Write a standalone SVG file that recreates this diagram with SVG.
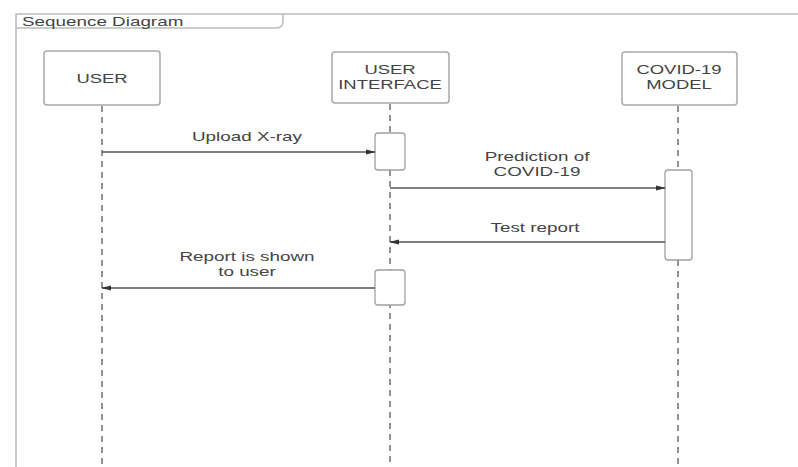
<svg xmlns="http://www.w3.org/2000/svg" width="798" height="467" viewBox="0 0 798 467">
  <style>
    .lbl { font-family: "Liberation Sans", Arial, sans-serif; font-size: 13px; fill: #444; text-anchor: middle; }
    .head { font-family: "Liberation Sans", Arial, sans-serif; font-size: 13px; fill: #444; }
    .box { fill: #fff; stroke: #a8a8a8; stroke-width: 1.5; }
    .act { fill: #fff; stroke: #a0a0a0; stroke-width: 1.3; }
    .life { stroke: #888; stroke-width: 1.8; stroke-dasharray: 6 5; fill: none; }
    .msg { stroke: #555; stroke-width: 1.3; fill: none; marker-end: url(#arrow); }
    .frame { stroke: #bbb; stroke-width: 1.5; fill: none; }
  </style>
  <defs>
    <marker id="arrow" markerWidth="10" markerHeight="8" refX="9" refY="4" orient="auto" markerUnits="userSpaceOnUse">
      <path d="M0,1.5 L10,4 L0,6.5 Z" fill="#333"/>
    </marker>
  </defs>
  <rect width="798" height="467" fill="#fff"/>

  <!-- frame with title tab -->
  <g id="frame">
    <path class="frame" d="M16,467 L16,14 L798,14"/>
    <path class="frame" d="M16,28 L276,28 Q283,28 283,21 L283,14"/>
    <text class="head" transform="translate(22,26) scale(1.45,1)">Sequence Diagram</text>
  </g>

  <!-- lifelines -->
  <g id="lifelines">
    <line class="life" x1="102" y1="106" x2="102" y2="467"/>
    <line class="life" x1="390" y1="104" x2="390" y2="467"/>
    <line class="life" x1="678" y1="106" x2="678" y2="467"/>
  </g>

  <g id="user">
    <rect class="box" x="44" y="51" width="116" height="54" rx="3"/>
    <text class="lbl" transform="translate(102,83) scale(1.42,1)">USER</text>
  </g>

  <g id="ui">
    <rect class="box" x="332" y="52" width="117" height="51" rx="3"/>
    <text class="lbl" transform="translate(390,74) scale(1.42,1)">USER</text>
    <text class="lbl" transform="translate(390,89) scale(1.42,1)">INTERFACE</text>
  </g>

  <g id="model">
    <rect class="box" x="622" y="52" width="115" height="53" rx="3"/>
    <text class="lbl" transform="translate(679,74) scale(1.42,1)">COVID-19</text>
    <text class="lbl" transform="translate(679,89) scale(1.42,1)">MODEL</text>
  </g>

  <!-- activation bars -->
  <g id="activations">
    <rect class="act" x="375" y="133" width="30" height="37" rx="3"/>
    <rect class="act" x="665" y="170" width="27" height="90" rx="3"/>
    <rect class="act" x="375" y="270" width="30" height="35" rx="3"/>
  </g>

  <!-- messages -->
  <g id="connectors">
    <line class="msg" x1="102" y1="152" x2="375" y2="152"/>
    <line class="msg" x1="390" y1="188" x2="665" y2="188"/>
    <line class="msg" x1="665" y1="242" x2="390" y2="242"/>
    <line class="msg" x1="375" y1="288" x2="102" y2="288"/>
    <text class="lbl" transform="translate(247,141) scale(1.45,1)">Upload X-ray</text>
    <text class="lbl" transform="translate(537,161) scale(1.45,1)">Prediction of</text>
    <text class="lbl" transform="translate(537,176) scale(1.45,1)">COVID-19</text>
    <text class="lbl" transform="translate(535,232) scale(1.45,1)">Test report</text>
    <text class="lbl" transform="translate(247,261) scale(1.45,1)">Report is shown</text>
    <text class="lbl" transform="translate(247,276) scale(1.45,1)">to user</text>
  </g>
</svg>
